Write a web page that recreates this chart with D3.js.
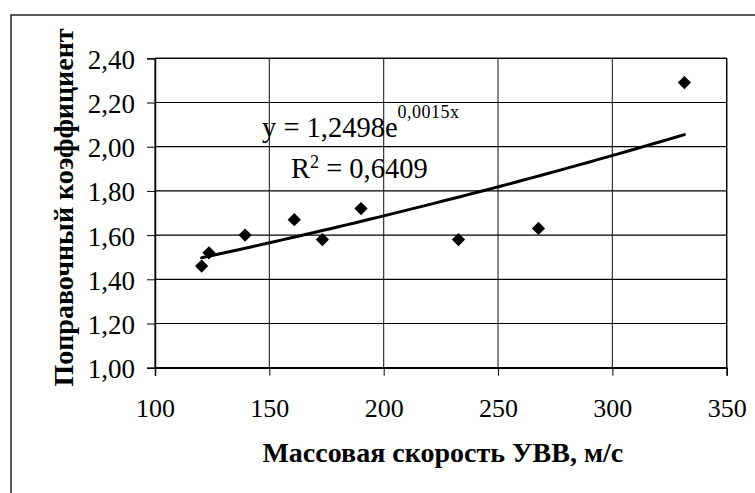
<!DOCTYPE html>
<html>
<head>
<meta charset="utf-8">
<script src="https://cdn.jsdelivr.net/npm/d3@7"></script>
<style>
  html, body { margin: 0; padding: 0; background: #fff; }
  svg { display: block; }
  text { font-family: "Liberation Serif", "Times New Roman", serif; fill: #000; }
</style>
</head>
<body>
<svg id="chart" width="755" height="493"></svg>
<script>
// Measured samples: mass velocity of the shock wave (m/s) vs correction coefficient
const speed = [120.4, 123.6, 139.4, 160.9, 173.2, 190.1, 232.7, 267.7, 331.5];
const coefficient = [1.46, 1.52, 1.60, 1.67, 1.58, 1.72, 1.58, 1.63, 2.29];

// Exponential trendline y = a * e^(b x) and its R²
const trendA = 1.2498;
const trendB = 0.0015;
const rSquared = "0,6409";

const xTicks = [100, 150, 200, 250, 300, 350];
const yTicks = [1.00, 1.20, 1.40, 1.60, 1.80, 2.00, 2.20, 2.40];

const xTitle = "Массовая скорость УВВ, м/с";
const yTitle = "Поправочный коэффициент";

const svg = d3.select("#chart");
const W = 755, H = 493;
const plot = { left: 155, top: 58.3, right: 726.7, bottom: 367.7 };

const ru = d3.formatLocale({ decimal: ",", thousands: " ", grouping: [3], currency: ["", ""] });
const fmt2 = ru.format(".2f");

const x = d3.scaleLinear().domain([100, 350]).range([plot.left, plot.right]);
const y = d3.scaleLinear().domain([1, 2.4]).range([plot.bottom, plot.top]);

svg.append("rect").attr("width", W).attr("height", H).attr("fill", "#fff");

// chart frame
svg.append("rect")
  .attr("x", 11).attr("y", 15)
  .attr("width", W + 20).attr("height", H + 20)
  .attr("fill", "none").attr("stroke", "#222").attr("stroke-width", 1.5);

// grid
const grid = svg.append("g");
grid.selectAll("line.h").data(yTicks).join("line")
  .attr("x1", plot.left).attr("x2", plot.right)
  .attr("y1", d => y(d)).attr("y2", d => y(d))
  .attr("stroke", "#000").attr("stroke-width", 1.2);
grid.selectAll("line.v").data(xTicks).join("line")
  .attr("y1", plot.top).attr("y2", plot.bottom)
  .attr("x1", d => x(d)).attr("x2", d => x(d))
  .attr("stroke", "#222").attr("stroke-width", 1.1);

// axes
const xAxis = svg.append("g")
  .attr("transform", `translate(0,${plot.bottom})`)
  .call(d3.axisBottom(x).tickValues(xTicks).tickSize(8).tickFormat(d3.format("d")));
const yAxis = svg.append("g")
  .attr("transform", `translate(${plot.left},0)`)
  .call(d3.axisLeft(y).tickValues(yTicks).tickSize(8).tickFormat(fmt2));

[xAxis, yAxis].forEach(g => {
  g.select(".domain").attr("stroke", "#000").attr("stroke-width", 1.5);
  g.selectAll(".tick line").attr("stroke", "#000").attr("stroke-width", 1);
  g.selectAll(".tick text")
    .attr("font-family", "Liberation Serif, serif")
    .attr("font-size", 26).attr("fill", "#000");
});
xAxis.selectAll(".tick text").attr("dy", null).attr("y", 49);
yAxis.selectAll(".tick text").attr("dy", null).attr("y", 10).attr("x", -20)
  .attr("font-size", 27);

// top and right edges of the plot area
svg.append("line").attr("x1", plot.left).attr("x2", plot.right)
  .attr("y1", plot.top).attr("y2", plot.top).attr("stroke", "#000").attr("stroke-width", 1.2);
svg.append("line").attr("x1", plot.right).attr("x2", plot.right)
  .attr("y1", plot.top).attr("y2", plot.bottom).attr("stroke", "#000").attr("stroke-width", 1.2);

// trendline across the data range
const xMin = d3.min(speed), xMax = d3.max(speed);
const trend = d3.range(0, 61).map(i => {
  const v = xMin + (xMax - xMin) * i / 60;
  return [v, trendA * Math.exp(trendB * v)];
});
svg.append("path")
  .datum(trend)
  .attr("fill", "none").attr("stroke", "#000").attr("stroke-width", 3)
  .attr("stroke-linecap", "round")
  .attr("d", d3.line().x(d => x(d[0])).y(d => y(d[1])));

// diamond markers
const diamond = d3.symbol().type(d3.symbolSquare).size(88);
svg.append("g").selectAll("path")
  .data(speed.map((s, i) => [s, coefficient[i]]))
  .join("path")
  .attr("d", diamond)
  .attr("transform", d => `translate(${x(d[0])},${y(d[1])}) rotate(45)`)
  .attr("fill", "#000");

// trendline label
const eq = svg.append("text").attr("x", 262).attr("y", 137).attr("font-size", 28.5);
eq.append("tspan").text("y = " + ru.format(".4f")(trendA) + "e");
eq.append("tspan").attr("font-size", 18).attr("dy", -19).attr("letter-spacing", 0.5)
  .text(ru.format(".4f")(trendB) + "x");

const r2 = svg.append("text").attr("x", 291).attr("y", 178).attr("font-size", 28.5);
r2.append("tspan").text("R");
r2.append("tspan").attr("font-size", 18).attr("dy", -10).text("2");
r2.append("tspan").attr("dy", 10).text(" = " + rSquared);

// axis titles
svg.append("text")
  .attr("x", (plot.left + plot.right) / 2 + 2).attr("y", 462)
  .attr("text-anchor", "middle").attr("font-size", 28).attr("font-weight", "bold")
  .text(xTitle);
svg.append("text")
  .attr("transform", "translate(73,207.5) rotate(-90)")
  .attr("text-anchor", "middle").attr("font-size", 28).attr("font-weight", "bold")
  .text(yTitle);
</script>
</body>
</html>
